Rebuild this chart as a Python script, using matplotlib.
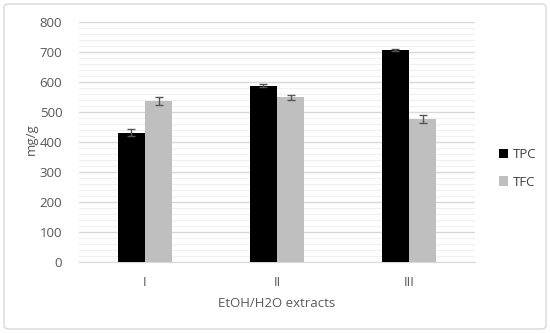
import matplotlib
matplotlib.use("Agg")
import matplotlib.pyplot as plt
import numpy as np
from matplotlib.patches import FancyBboxPatch
from matplotlib.ticker import MultipleLocator

categories = ["I", "II", "III"]
tpc = [431, 588, 706]
tpc_err = [11, 4, 4]
tfc = [538, 549, 477]
tfc_err = [13, 9, 14]

plt.rcParams['font.family'] = ['Open Sans', 'DejaVu Sans']

fig = plt.figure(figsize=(5.5, 3.33), dpi=100)
ax = fig.add_axes([79/550, 1-262/333, (475-79)/550, 240/333])

x = np.arange(len(categories))
w = 0.205
ax.bar(x - w/2, tpc, w, color='black', label='TPC', zorder=3,
       yerr=tpc_err, error_kw=dict(ecolor='#555555', capsize=3, elinewidth=1, capthick=1))
ax.bar(x + w/2, tfc, w, color='#bfbfbf', label='TFC', zorder=3,
       yerr=tfc_err, error_kw=dict(ecolor='#555555', capsize=3, elinewidth=1, capthick=1))

ax.set_xlim(-0.5, 2.5)
ax.set_ylim(0, 800)
ax.yaxis.set_major_locator(MultipleLocator(100))
ax.yaxis.set_minor_locator(MultipleLocator(20))
ax.grid(axis='y', which='major', color='#d9d9d9', linewidth=1, zorder=0)
ax.grid(axis='y', which='minor', color='#f0f0f0', linewidth=0.8, zorder=0)
for s in ['top', 'right', 'left']:
    ax.spines[s].set_visible(False)
ax.spines['bottom'].set_color('#d9d9d9')
ax.tick_params(axis='both', which='both', length=0, colors='#595959', labelsize=9.5)
ax.tick_params(axis='y', pad=12)
ax.tick_params(axis='x', pad=10)
ax.set_xticks(x)
ax.set_xticklabels(categories)
ax.set_xlabel("EtOH/H2O extracts", color='#595959', fontsize=9.5, labelpad=6)
ax.set_ylabel("mg/g", color='#595959', fontsize=9.5)
ax.yaxis.set_label_coords(-0.105, 0.51)

leg = ax.legend(loc='center left', bbox_to_anchor=(1.03, 0.39), frameon=False,
                fontsize=9.5, handlelength=0.7, handleheight=0.7, labelspacing=1.1,
                handletextpad=0.4, labelcolor='#404040')

border = FancyBboxPatch((4/550, 4/333), 1-8/550, 1-8/333, boxstyle="round,pad=0,rounding_size=0.01",
                        transform=fig.transFigure, fill=False, edgecolor='#d9d9d9', linewidth=1)
fig.patches.append(border)

fig.savefig("out.png", dpi=100)
